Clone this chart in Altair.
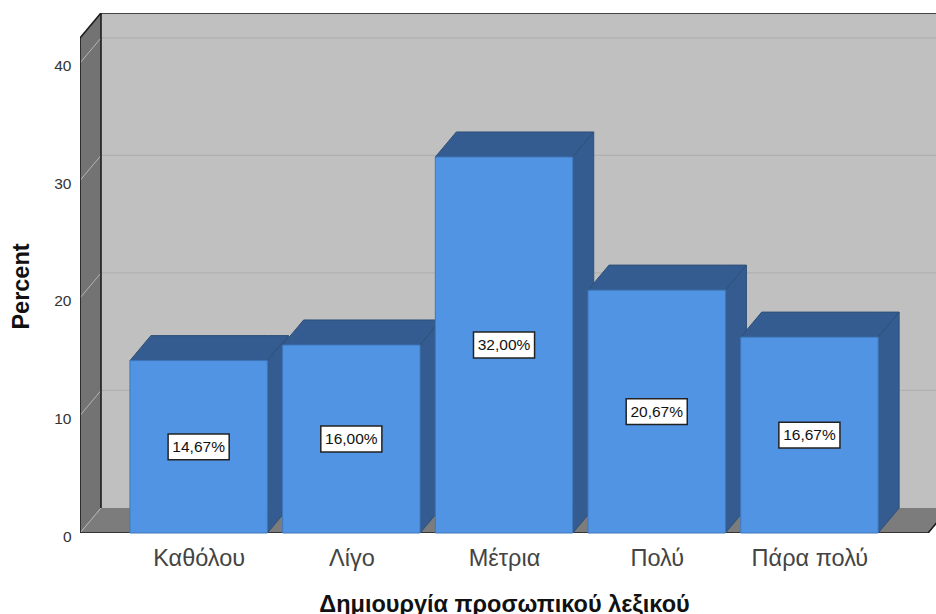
import altair as alt
import pandas as pd

# Survey results: share of respondents per answer
categories = ["Καθόλου", "Λίγο", "Μέτρια", "Πολύ", "Πάρα πολύ"]
percents = [14.67, 16.00, 32.00, 20.67, 16.67]
y_ticks = [0, 10, 20, 30, 40]

# Box geometry in scale units: x counts categories, y counts percent
HALF_BAR = 0.45
DEPTH_X = 0.1375
DEPTH_Y = 2.13
X_MIN, X_MAX = -0.777, 4.829
Y_MAX = 44.255
FLOOR_END = 4.777
BOX_HALF_W, BOX_HALF_H = 0.2, 1.1

FONT = "Liberation Sans"
FRONT = "#5294E4"
SHADE = "#345C90"
EDGE = "#2F5077"
WALL = "#C0C0C0"
SIDE_WALL = "#737373"
FLOOR = "#7C7C7C"
GRID = "#B0B0B0"
DIAGONAL = "#B4B4B4"
INK = "#1C1C1C"

x_scale = alt.Scale(domain=[X_MIN, X_MAX], nice=False, zero=False)
y_scale = alt.Scale(domain=[0, Y_MAX], nice=False, zero=False)

label_lookup = "[" + ",".join(f"'{c}'" for c in categories) + "][datum.value]"
x_axis = alt.Axis(
    values=list(range(len(categories))), labelExpr=label_lookup, grid=False,
    domain=False, ticks=False, labelFont=FONT, labelFontSize=23.5, labelColor="#444444",
    labelPadding=13, labelBaseline="top", labelFlush=False, labelOverlap=False,
    title="Δημιουργία προσωπικού λεξικού", titleFont=FONT, titleFontSize=23.5,
    titleFontWeight="bold", titleColor="#111111", titleX=424, titleY=59,
    titleAnchor="middle", titleAlign="center")
y_axis = alt.Axis(
    values=y_ticks, grid=False, domain=False, ticks=False, labelFont=FONT,
    labelFontSize=15.5, labelColor="#333333", labelPadding=9, labelOffset=3,
    title="Percent", titleFont=FONT, titleFontSize=23.5, titleFontWeight="bold",
    titleColor="#111111", titleX=-47, titleY=273, titleAlign="center", titleAngle=270)

xq = alt.X("x:Q", scale=x_scale, axis=x_axis)
x2q = alt.X2("x2:Q")
yq = alt.Y("y:Q", scale=y_scale, axis=y_axis)
y2q = alt.Y2("y2:Q")

# Back wall
wall = pd.DataFrame([{"x": X_MIN + DEPTH_X, "x2": X_MAX + 1, "y": DEPTH_Y, "y2": Y_MAX}])
back = alt.Chart(wall).mark_rect(color=WALL, clip=True).encode(x=xq, x2=x2q, y=yq, y2=y2q)

# Slanted surfaces are areas between two straight edges
def parallelogram(face, x_left, y_left_low, y_left_high, x_right, y_right_low, y_right_high):
    return [
        {"face": face, "x": x_left, "y": y_left_low, "y2": y_left_high},
        {"face": face, "x": x_right, "y": y_right_low, "y2": y_right_high},
    ]

def area_layer(rows, color, stroke=None):
    opts = {"color": color, "clip": True, "interpolate": "linear", "orient": "vertical"}
    if stroke:
        opts.update(stroke=stroke, strokeWidth=1)
    return alt.Chart(pd.DataFrame(rows)).mark_area(**opts).encode(
        x=xq, y=yq, y2=y2q, detail="face:N")

side_wall = area_layer(
    parallelogram("left", X_MIN, 0, Y_MAX - DEPTH_Y, X_MIN + DEPTH_X, DEPTH_Y, Y_MAX), SIDE_WALL)

floor_rows = [
    {"face": "floor", "x": X_MIN, "y": 0, "y2": 0},
    {"face": "floor", "x": X_MIN + DEPTH_X, "y": 0, "y2": DEPTH_Y},
    {"face": "floor", "x": FLOOR_END, "y": 0, "y2": DEPTH_Y},
    {"face": "floor", "x": FLOOR_END + DEPTH_X, "y": DEPTH_Y, "y2": DEPTH_Y},
]
floor = area_layer(floor_rows, FLOOR)

def line_layer(rows, color, width):
    return alt.Chart(pd.DataFrame(rows)).mark_line(
        color=color, strokeWidth=width, clip=True).encode(
        x=xq, y=yq, detail="seg:N", order=alt.Order("k:Q"))

def segments(pairs):
    rows = []
    for i, ((xa, ya), (xb, yb)) in enumerate(pairs):
        rows.append({"seg": i, "k": 0, "x": xa, "y": ya})
        rows.append({"seg": i, "k": 1, "x": xb, "y": yb})
    return rows

# Gridlines along the back wall, and their continuation across the side wall
grid_back = line_layer(
    segments([((X_MIN + DEPTH_X, t + DEPTH_Y), (X_MAX + 1, t + DEPTH_Y)) for t in y_ticks[1:]]),
    GRID, 1.2)
grid_side = line_layer(
    segments([((X_MIN, t), (X_MIN + DEPTH_X, t + DEPTH_Y)) for t in y_ticks]),
    DIAGONAL, 1)

# Outline of the open box
frame = line_layer(segments([
    ((X_MIN, 0), (X_MIN, Y_MAX - DEPTH_Y)),
    ((X_MIN, Y_MAX - DEPTH_Y), (X_MIN + DEPTH_X, Y_MAX)),
    ((X_MIN + DEPTH_X, Y_MAX), (X_MAX + 1, Y_MAX)),
    ((X_MIN + DEPTH_X, DEPTH_Y), (X_MIN + DEPTH_X, Y_MAX)),
    ((X_MIN, 0), (FLOOR_END, 0)),
    ((FLOOR_END, 0), (FLOOR_END + DEPTH_X, DEPTH_Y)),
]), INK, 1.6)

# Bars: top and side faces first, so that each front covers its neighbour's side
face_rows = []
front_rows = []
label_rows = []
for i, v in enumerate(percents):
    left, right = i - HALF_BAR, i + HALF_BAR
    face_rows += [
        {"face": f"{i}a", "x": left, "y": v, "y2": v},
        {"face": f"{i}a", "x": left + DEPTH_X, "y": v, "y2": v + DEPTH_Y},
        {"face": f"{i}a", "x": right, "y": v, "y2": v + DEPTH_Y},
        {"face": f"{i}a", "x": right + DEPTH_X, "y": v + DEPTH_Y, "y2": v + DEPTH_Y},
    ]
    face_rows += parallelogram(f"{i}b", right, 0, v, right + DEPTH_X, DEPTH_Y, v + DEPTH_Y)
    front_rows.append({"x": left, "x2": right, "y": 0, "y2": v})
    label_rows.append({
        "x": i - BOX_HALF_W, "x2": i + BOX_HALF_W,
        "y": v / 2 - BOX_HALF_H, "y2": v / 2 + BOX_HALF_H,
        "cx": i, "cy": v / 2, "text": f"{v:.2f}%".replace(".", ","),
    })

faces = area_layer(face_rows, SHADE, EDGE)
fronts = alt.Chart(pd.DataFrame(front_rows)).mark_rect(
    color=FRONT, stroke="#3F78BE", strokeWidth=1).encode(x=xq, x2=x2q, y=yq, y2=y2q)

labels_df = pd.DataFrame(label_rows)
label_boxes = alt.Chart(labels_df).mark_rect(
    color="white", stroke="#222222", strokeWidth=1.5).encode(x=xq, x2=x2q, y=yq, y2=y2q)
label_text = alt.Chart(labels_df).mark_text(
    font=FONT, fontSize=15.5, color="#111111", align="center", baseline="middle").encode(
    x=alt.X("cx:Q", scale=x_scale, axis=x_axis),
    y=alt.Y("cy:Q", scale=y_scale, axis=y_axis), text="text:N")

chart = alt.layer(
    back, side_wall, floor, grid_back, grid_side, frame,
    faces, fronts, label_boxes, label_text,
).resolve_scale(x="shared", y="shared").properties(
    width=856, height=520,
    padding={"left": 80, "top": 13, "right": 0, "bottom": 81},
    autosize=alt.AutoSizeParams(type="none"),
    background="white",
).configure_view(stroke=None)

chart.save("out.html", embed_options={"renderer": "svg", "actions": False})
